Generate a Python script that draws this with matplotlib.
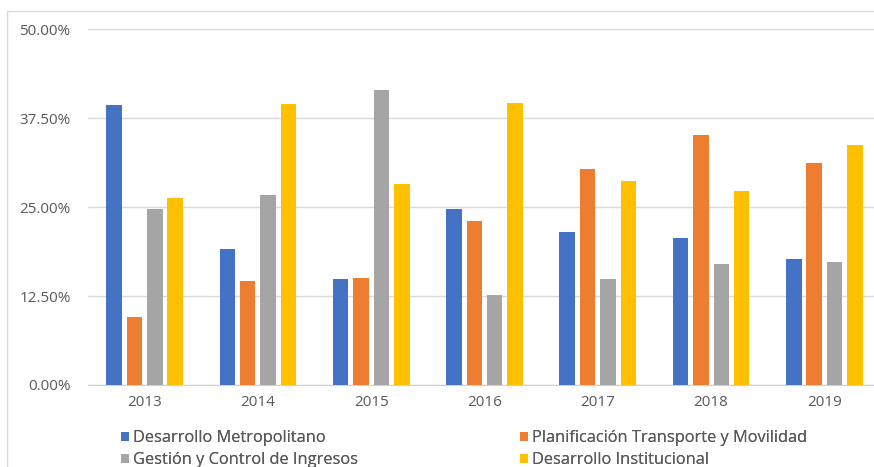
import numpy as np
import matplotlib
matplotlib.use("Agg")
import matplotlib.pyplot as plt
from matplotlib.patches import Patch, Rectangle
from matplotlib.ticker import FuncFormatter, MultipleLocator

years = ["2013", "2014", "2015", "2016", "2017", "2018", "2019"]
series_names = [
    "Desarrollo Metropolitano",
    "Planificación Transporte y Movilidad",
    "Gestión y Control de Ingresos",
    "Desarrollo Institucional",
]
desarrollo_metropolitano = [39.3, 19.1, 14.9, 24.7, 21.5, 20.6, 17.7]
planificacion_transporte = [9.5, 14.6, 15.1, 23.0, 30.3, 35.1, 31.2]
gestion_control_ingresos = [24.7, 26.7, 41.5, 12.6, 14.9, 17.0, 17.3]
desarrollo_institucional = [26.3, 39.5, 28.3, 39.7, 28.7, 27.2, 33.8]
colors = ["#4472C4", "#ED7D31", "#A5A5A5", "#FFC000"]

series = [desarrollo_metropolitano, planificacion_transporte,
          gestion_control_ingresos, desarrollo_institucional]

plt.rcParams["font.family"] = ["Open Sans", "DejaVu Sans"]
TEXT = "#595959"

W, H = 874, 467
fig = plt.figure(figsize=(W / 100, H / 100), dpi=100)
fig.patch.set_facecolor("white")

# outer chart frame
fig.add_artist(Rectangle((7 / W, -0.05), 1.1, 1 - 11 / H + 0.05,
                         transform=fig.transFigure, fill=False,
                         edgecolor="#d9d9d9", linewidth=1.0))

left, right = 88, 881
bottom_px, top_px = 385, 29.3
ax = fig.add_axes([left / W, (H - bottom_px) / H, (right - left) / W,
                   (bottom_px - top_px) / H])

x = np.arange(len(years))
step = 0.18
width = 0.137
for i, (vals, col) in enumerate(zip(series, colors)):
    ax.bar(x + (i - 1.5) * step, vals, width=width, color=col,
           label=series_names[i], zorder=3)

ax.set_xlim(-0.5, len(years) - 0.5)
ax.set_ylim(0, 50)
ax.yaxis.set_major_locator(MultipleLocator(12.5))
ax.yaxis.set_major_formatter(FuncFormatter(lambda v, p: f"{v:.2f}%"))
ax.grid(axis="y", color="#d9d9d9", linewidth=1.0, zorder=0)
ax.set_xticks(x)
ax.set_xticklabels(years)
for s in ["top", "right", "left"]:
    ax.spines[s].set_visible(False)
ax.spines["bottom"].set_color("#d0d0d0")
ax.tick_params(axis="both", length=0, colors=TEXT, labelsize=11)
ax.tick_params(axis="y", pad=12.5)
ax.tick_params(axis="x", pad=7)

handles = [Patch(facecolor=c, edgecolor="none") for c in colors]
legend_kw = dict(loc="upper left", frameon=False, fontsize=11.8,
                 handlelength=0.5, handleheight=0.5, handletextpad=0.25,
                 labelspacing=0.38, labelcolor=TEXT, borderaxespad=0,
                 borderpad=0)
for col_idx, x_px in zip([(0, 2), (1, 3)], [121, 520]):
    leg = fig.legend([handles[i] for i in col_idx],
                     [series_names[i] for i in col_idx],
                     bbox_to_anchor=(x_px / W, 1 - 430 / H), **legend_kw)
    fig.add_artist(leg)

fig.savefig("out.png", dpi=100)
